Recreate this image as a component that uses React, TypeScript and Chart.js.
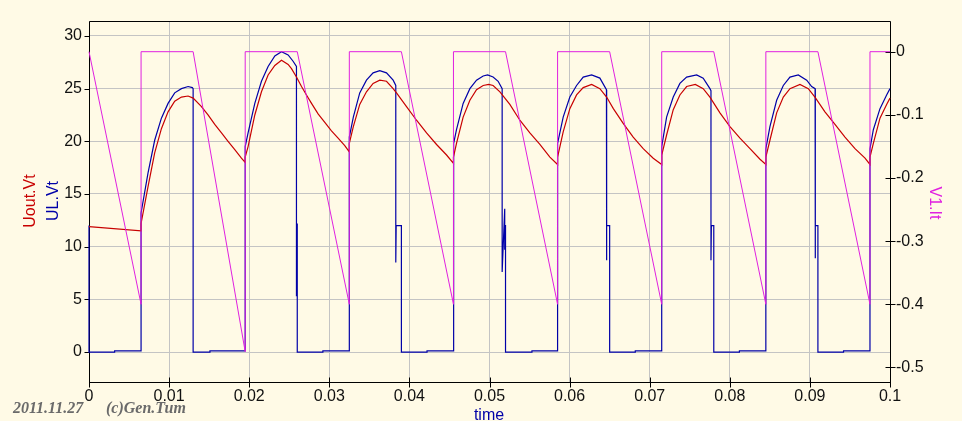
import React, { useEffect, useRef } from 'react';
import { Chart, registerables } from 'chart.js';

Chart.register(...registerables);

// ---------- tick values and labels ----------
const X_TICKS = [0, 0.01, 0.02, 0.03, 0.04, 0.05, 0.06, 0.07, 0.08, 0.09, 0.1];
const X_TICK_LABELS = ['0', '0.01', '0.02', '0.03', '0.04', '0.05', '0.06', '0.07', '0.08', '0.09', '0.1'];
const LEFT_TICKS = [0, 5, 10, 15, 20, 25, 30];
const LEFT_TICK_LABELS = ['0', '5', '10', '15', '20', '25', '30'];
const RIGHT_TICKS = [0, -0.1, -0.2, -0.3, -0.4, -0.5];
const RIGHT_TICK_LABELS = ['0', '-0.1', '-0.2', '-0.3', '-0.4', '-0.5'];

// ---------- series (time, value) ----------
const V1_IT: [number, number][] = [
  [0, 0], [0.0065, -0.4], [0.0065, 0], [0.013, 0], [0.0195, -0.475], [0.0195, 0],
  [0.026, 0], [0.0325, -0.4], [0.0325, 0], [0.039, 0], [0.0455, -0.4], [0.0455, 0],
  [0.052, 0], [0.0585, -0.4], [0.0585, 0], [0.065, 0], [0.0715, -0.4], [0.0715, 0],
  [0.078, 0], [0.0845, -0.4], [0.0845, 0], [0.091, 0], [0.0975, -0.4], [0.0975, 0], [0.1, 0],
];

const UOUT_VT: [number, number][] = [
  [0, 11.9], [0.0065, 11.5], [0.0065, 12.2],
  [0.00737, 15.7], [0.0082, 18.9], [0.00904, 21.2], [0.00987, 22.8], [0.0107, 23.8], [0.01154, 24.2], [0.01237, 24.3], [0.013, 24.1],
  [0.01404, 23.3], [0.01486, 22.5], [0.0157, 21.6], [0.01654, 20.8], [0.01736, 20.0], [0.0182, 19.2], [0.01903, 18.4], [0.0195, 18.0], [0.0195, 18.5],
  [0.01986, 19.5], [0.0207, 22.5], [0.02153, 24.7], [0.02236, 26.3], [0.0232, 27.2], [0.02403, 27.7], [0.02486, 27.3], [0.02528, 26.9], [0.0259, 26.1],
  [0.02653, 25.2], [0.02715, 24.4], [0.02778, 23.6], [0.0286, 22.6], [0.02944, 21.8], [0.03027, 21.0], [0.0311, 20.3], [0.03193, 19.6], [0.0325, 19.0], [0.0325, 19.8],
  [0.033, 21.4], [0.0338, 23.5], [0.03464, 24.7], [0.03547, 25.5], [0.0363, 25.8], [0.03714, 25.7], [0.03797, 25.0], [0.03839, 24.6],
  [0.03964, 23.3], [0.04089, 22.0], [0.04214, 20.8], [0.04339, 19.7], [0.04464, 18.7], [0.0455, 17.9], [0.0455, 18.5],
  [0.04588, 19.8], [0.04671, 22.3], [0.04755, 23.9], [0.04838, 24.9], [0.04921, 25.3], [0.0499, 25.4], [0.05045, 25.3], [0.0513, 24.7],
  [0.05254, 23.5], [0.05379, 22.0], [0.05504, 20.8], [0.05629, 19.7], [0.05754, 18.5], [0.0585, 17.8], [0.0585, 18.5],
  [0.0592, 20.9], [0.06003, 23.1], [0.06087, 24.4], [0.0617, 25.1], [0.06275, 25.4], [0.06378, 25.0], [0.06462, 24.2],
  [0.06546, 23.1], [0.06669, 21.7], [0.06794, 20.4], [0.06919, 19.3], [0.07044, 18.4], [0.0715, 17.8], [0.0715, 18.7],
  [0.07211, 20.6], [0.07294, 23.0], [0.07377, 24.4], [0.07461, 25.2], [0.0757, 25.4], [0.07668, 25.0], [0.07752, 24.2],
  [0.07877, 22.7], [0.08002, 21.4], [0.08127, 20.3], [0.08252, 19.3], [0.08377, 18.3], [0.0845, 17.8], [0.0845, 18.5],
  [0.08501, 20.1], [0.08585, 22.7], [0.08668, 24.2], [0.08751, 25.0], [0.08876, 25.4], [0.0898, 25.0], [0.09063, 24.2],
  [0.09188, 22.8], [0.09313, 21.6], [0.09438, 20.4], [0.09563, 19.3], [0.09688, 18.4], [0.0975, 17.8], [0.0975, 18.5],
  [0.09792, 19.8], [0.09875, 22.2], [0.09958, 23.5], [0.1, 24.1],
];

const UL_VT: [number, number][] = [
  [0, 12], [0, 0], [0.0032, 0], [0.0032, 0.1], [0.0065, 0.1], [0.0065, 13.2],
  [0.00737, 17.0], [0.0082, 20.1], [0.00904, 22.2], [0.00987, 23.6], [0.0107, 24.6], [0.01154, 25.0], [0.01237, 25.2], [0.0129, 25.1], [0.013, 25.0], [0.013, 0],
  [0.0151, 0], [0.0151, 0.1], [0.0195, 0.1], [0.0195, 19.5],
  [0.01986, 20.8], [0.0207, 23.6], [0.02153, 25.7], [0.02236, 27.1], [0.0232, 28.1], [0.02403, 28.5], [0.02486, 28.2], [0.02548, 27.6], [0.0259, 27.1],
  [0.0259, 5.3], [0.026, 12.2], [0.026, 0],
  [0.0292, 0], [0.0292, 0.1], [0.0325, 0.1], [0.0325, 20.4],
  [0.033, 22.3], [0.0338, 24.6], [0.03464, 25.8], [0.03547, 26.5], [0.0363, 26.7], [0.03714, 26.5], [0.03797, 25.8], [0.0383, 25.3],
  [0.0383, 8.5], [0.03835, 12.0], [0.039, 12.0], [0.039, 0],
  [0.0422, 0], [0.0422, 0.1], [0.0455, 0.1], [0.0455, 16.5], [0.04552, 9.7], [0.04555, 19.8],
  [0.04588, 21.1], [0.04671, 23.6], [0.04755, 25.0], [0.04838, 25.8], [0.04921, 26.2], [0.04976, 26.3], [0.05045, 26.1], [0.05108, 25.7], [0.05158, 25.0],
  [0.05158, 7.6], [0.0519, 13.6], [0.0519, 9.7], [0.0519, 12.0], [0.052, 12.0], [0.052, 0],
  [0.0553, 0], [0.0553, 0.1], [0.0585, 0.1], [0.0585, 19.8],
  [0.0592, 22.3], [0.06003, 24.2], [0.06087, 25.3], [0.0617, 26.1], [0.06275, 26.3], [0.06378, 26.0], [0.0646, 24.9],
  [0.0646, 8.7], [0.06465, 12.0], [0.065, 12.0], [0.065, 0],
  [0.0682, 0], [0.0682, 0.1], [0.0715, 0.1], [0.0715, 19.5],
  [0.07211, 22.3], [0.07294, 24.2], [0.07377, 25.5], [0.07461, 26.1], [0.07586, 26.3], [0.07668, 26.0], [0.07752, 25.0], [0.07765, 24.8],
  [0.07765, 8.7], [0.0777, 12.0], [0.078, 12.0], [0.078, 0],
  [0.0812, 0], [0.0812, 0.1], [0.0845, 0.1], [0.0845, 19.3],
  [0.08501, 21.4], [0.08585, 23.9], [0.08668, 25.3], [0.08751, 26.1], [0.08855, 26.3], [0.0896, 25.8], [0.09022, 25.2], [0.09065, 25.0],
  [0.09065, 8.9], [0.0907, 12.0], [0.091, 12.0], [0.091, 0],
  [0.0942, 0], [0.0942, 0.1], [0.0975, 0.1], [0.0975, 19.3],
  [0.09792, 21.1], [0.09875, 23.1], [0.09958, 24.4], [0.1, 25.0],
];

// ---------- styles ----------
const BG = '#fffae6';
const RED = '#c80000';
const BLUE = '#0000a8';
const MAGENTA = '#e020e0';
const GRID = '#c4c4c4';
const TICK_FONT = { family: '"Liberation Sans", Arial, sans-serif', size: 16 };
const TEXT_FONT = '16px "Liberation Sans", Arial, sans-serif';

const framePlugin = {
  id: 'frame',
  beforeDraw(chart: any) {
    const { ctx, width, height } = chart;
    ctx.save();
    ctx.fillStyle = BG;
    ctx.fillRect(0, 0, width, height);
    ctx.restore();
  },
  beforeDatasetsDraw(chart: any) {
    const { ctx, chartArea: a, scales } = chart;
    const L = Math.round(a.left) + 0.5;
    const R = Math.round(a.right) + 0.5;
    const T = Math.round(a.top) + 0.5;
    const B = Math.round(a.bottom) + 0.5;
    ctx.save();
    ctx.strokeStyle = '#000';
    ctx.lineWidth = 1;
    ctx.beginPath();
    ctx.moveTo(L, T); ctx.lineTo(R, T);
    ctx.moveTo(L, T); ctx.lineTo(L, B);
    ctx.moveTo(R, T); ctx.lineTo(R, B);
    ctx.moveTo(L, B); ctx.lineTo(R, B);
    LEFT_TICKS.forEach((v) => {
      const y = Math.round(scales.y.getPixelForValue(v)) + 0.5;
      ctx.moveTo(L - 5, y); ctx.lineTo(L, y);
    });
    RIGHT_TICKS.forEach((v) => {
      const y = Math.round(scales.y1.getPixelForValue(v)) + 0.5;
      ctx.moveTo(R - 5, y); ctx.lineTo(R + 5, y);
    });
    X_TICKS.forEach((v) => {
      const x = Math.round(scales.x.getPixelForValue(v)) + 0.5;
      ctx.moveTo(x, B - 5); ctx.lineTo(x, B + 5);
    });
    ctx.stroke();
    ctx.restore();
  },
  afterDraw(chart: any) {
    const { ctx } = chart;
    ctx.save();
    ctx.font = TEXT_FONT;
    ctx.textAlign = 'center';
    ctx.textBaseline = 'alphabetic';
    // left axis titles
    ctx.save();
    ctx.translate(35, 201);
    ctx.rotate(-Math.PI / 2);
    ctx.fillStyle = RED;
    ctx.fillText('Uout.Vt', 0, 0);
    ctx.restore();
    ctx.save();
    ctx.translate(58, 201);
    ctx.rotate(-Math.PI / 2);
    ctx.fillStyle = BLUE;
    ctx.fillText('UL.Vt', 0, 0);
    ctx.restore();
    // right axis title
    ctx.save();
    ctx.translate(930, 203);
    ctx.rotate(Math.PI / 2);
    ctx.fillStyle = MAGENTA;
    ctx.fillText('V1.It', 0, 0);
    ctx.restore();
    // x title
    ctx.fillStyle = BLUE;
    ctx.fillText('time', 489, 420);
    // watermark
    ctx.textAlign = 'left';
    ctx.fillStyle = '#6a6a6a';
    ctx.font = 'italic bold 16px "Liberation Serif", "DejaVu Serif", serif';
    ctx.fillText('2011.11.27', 13, 413);
    ctx.fillText('(c)Gen.Tum', 106, 413);
    ctx.restore();
  },
};

const toPoints = (arr: [number, number][]) => arr.map(([x, y]) => ({ x, y }));

export default function App() {
  const ref = useRef<HTMLCanvasElement>(null);
  useEffect(() => {
    document.body.style.margin = '0';
    const canvas = ref.current!;
    const chart = new Chart(canvas, {
      type: 'line',
      data: {
        datasets: [
          {
            label: 'V1.It',
            data: toPoints(V1_IT),
            yAxisID: 'y1',
            borderColor: MAGENTA,
            borderWidth: 1,
            pointRadius: 0,
            tension: 0,
            clip: 4,
          },
          {
            label: 'Uout.Vt',
            data: toPoints(UOUT_VT),
            yAxisID: 'y',
            borderColor: RED,
            borderWidth: 1.2,
            pointRadius: 0,
            tension: 0,
            clip: 4,
          },
          {
            label: 'UL.Vt',
            data: toPoints(UL_VT),
            yAxisID: 'y',
            borderColor: BLUE,
            borderWidth: 1.2,
            pointRadius: 0,
            tension: 0,
            clip: 4,
          },
        ] as any,
      },
      options: {
        responsive: false,
        animation: false,
        devicePixelRatio: 1,
        layout: { padding: { top: 21, left: 0, right: 0, bottom: 0 } },
        plugins: {
          legend: { display: false },
          tooltip: { enabled: false },
        },
        events: [],
        scales: {
          x: {
            type: 'linear',
            position: 'bottom',
            min: 0,
            max: 0.1,
            afterBuildTicks: (s: any) => { s.ticks = X_TICKS.map((v) => ({ value: v })); },
            afterFit: (s: any) => { s.height = 39; },
            ticks: {
              callback: (_v: any, i: number) => X_TICK_LABELS[i],
              font: TICK_FONT,
              color: '#111',
              padding: 5,
              maxRotation: 0,
              minRotation: 0,
              autoSkip: false,
            },
            grid: { color: GRID, lineWidth: 1, drawTicks: false },
            border: { display: false },
          },
          y: {
            type: 'linear',
            position: 'left',
            min: -2.845,
            max: 31.42,
            afterBuildTicks: (s: any) => { s.ticks = LEFT_TICKS.map((v) => ({ value: v })); },
            afterFit: (s: any) => { s.width = 89; },
            ticks: {
              callback: (_v: any, i: number) => LEFT_TICK_LABELS[i],
              font: TICK_FONT,
              color: '#111',
              padding: 7,
              autoSkip: false,
            },
            grid: { color: GRID, lineWidth: 1, drawTicks: false },
            border: { display: false },
          },
          y1: {
            type: 'linear',
            position: 'right',
            min: -0.5231,
            max: 0.0486,
            afterBuildTicks: (s: any) => { s.ticks = RIGHT_TICKS.map((v) => ({ value: v })); },
            afterFit: (s: any) => { s.width = 72; },
            ticks: {
              callback: (_v: any, i: number) => RIGHT_TICK_LABELS[i],
              font: TICK_FONT,
              color: '#111',
              padding: 6,
              autoSkip: false,
            },
            grid: { display: false, drawTicks: false },
            border: { display: false },
          },
        },
      } as any,
      plugins: [framePlugin],
    });
    return () => chart.destroy();
  }, []);

  return (
    <div style={{ position: 'absolute', left: 0, top: 0, width: 962, height: 421, background: BG }}>
      <canvas ref={ref} width={962} height={421} style={{ display: 'block', width: 962, height: 421 }} />
    </div>
  );
}
